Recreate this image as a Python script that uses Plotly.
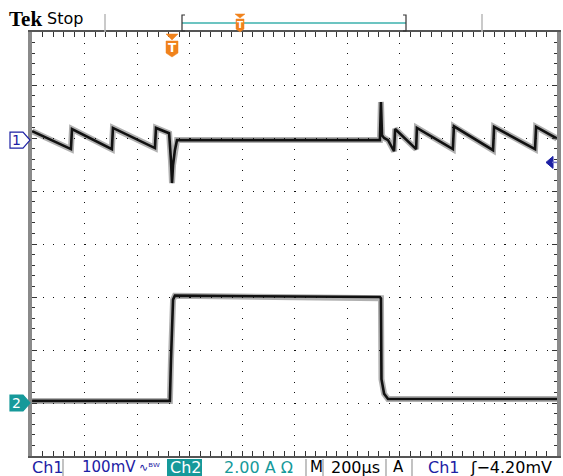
import plotly.graph_objects as go

# Channel 1 (100 mV/div) : time in microseconds, voltage in mV
ch1_time_us = [-533, -385, -381, -229, -225, -65, -61, -11, -4, 0, 4, 11, 19,
               792, 796, 800, 808, 823, 846, 850, 930, 933, 1070, 1074,
               1223, 1227, 1383, 1387, 1467]
ch1_mv = [17, -17, 21, -17, 23, -15, 23, 13, -38, -81, -47, -19, 0,
          0, 72, 9, 4, 0, -21, 21, -17, 23, -17, 26,
          -19, 25, -17, 25, 3]

# Channel 2 (2.00 A/div) : time in microseconds, current in A
ch2_time_us = [-533, -8, -4, 4, 11, 792, 796, 798, 808, 823, 1467]
ch2_amp = [0.08, 0.08, 1.6, 3.9, 4.05, 4.0, 3.95, 0.9, 0.35, 0.15, 0.15]

# scope settings
time_range_us = [-533.33, 1466.67]     # 200 us/div, 10 div
ch1_range_mv = [-596, 204]             # 100 mV/div, 8 div
ch2_range_a = [-2, 14]                 # 2 A/div, 8 div
trig_level_mv = -42

BLUE = "#1c20a4"
TEAL = "#16999a"
ORANGE = "#f0821c"
FONT = "DejaVu Sans"

W, H = 563, 476
L, R, T, B = 32, 6, 32, 20
PW, PH = W - L - R, H - T - B


def px(x):
    return (x - L) / PW


def py(y):
    return 1 - (y - T) / PH


fig = go.Figure()

for tx, ty, yax in [(ch1_time_us, ch1_mv, "y"), (ch2_time_us, ch2_amp, "y2")]:
    fig.add_trace(go.Scatter(x=tx, y=ty, yaxis=yax, mode="lines",
                             line=dict(color="rgba(30,30,30,0.35)", width=6),
                             hoverinfo="skip", showlegend=False))
    fig.add_trace(go.Scatter(x=tx, y=ty, yaxis=yax, mode="lines",
                             line=dict(color="#111111", width=2.6),
                             showlegend=False))

shapes = []
ann = []

# ground markers
for yref, fill, line, txt, tcol in [("y", "white", BLUE, "1", BLUE),
                                     ("y2", TEAL, TEAL, "2", "white")]:
    shapes.append(dict(type="path", xref="paper", yref=yref,
                       xsizemode="pixel", ysizemode="pixel",
                       xanchor=0, yanchor=0,
                       path="M-22,-8 L-9,-8 L-2,0 L-9,8 L-22,8 Z",
                       fillcolor=fill, line=dict(color=line, width=1.2)))
    ann.append(dict(x=px(16), y=0, xref="paper", yref=yref, text=txt,
                    showarrow=False, font=dict(family=FONT, size=14, color=tcol),
                    xanchor="center", yanchor="middle"))

# trigger level arrow (right)
shapes.append(dict(type="path", xref="paper", yref="y",
                   xsizemode="pixel", ysizemode="pixel", xanchor=1,
                   yanchor=trig_level_mv,
                   path="M-11,0 L-4,-6 L-4,6 Z", fillcolor=BLUE,
                   line=dict(color=BLUE, width=1)))
shapes.append(dict(type="path", xref="paper", yref="y",
                   xsizemode="pixel", ysizemode="pixel", xanchor=1,
                   yanchor=trig_level_mv,
                   path="M-5,0 L0,0", line=dict(color="#6d6fc8", width=1.5)))

# trigger position marker (T) below top border
shapes.append(dict(type="path", xref="x", yref="paper",
                   xsizemode="pixel", ysizemode="pixel", xanchor=0, yanchor=1,
                   path="M-6,-2 L6,-2 L0,-8 Z", fillcolor=ORANGE,
                   line=dict(color=ORANGE, width=0.5)))
shapes.append(dict(type="path", xref="x", yref="paper",
                   xsizemode="pixel", ysizemode="pixel", xanchor=0, yanchor=1,
                   path="M-6,-9 L6,-9 L6,-21 L0,-25 L-6,-21 Z", fillcolor=ORANGE,
                   line=dict(color=ORANGE, width=0.5)))
ann.append(dict(x=0, y=py(48), xref="x", yref="paper", text="<b>T</b>",
                showarrow=False, font=dict(family=FONT, size=12, color="white"),
                xanchor="center", yanchor="middle"))

# ---------- top bar ----------
ann.append(dict(x=px(7), y=py(19), xref="paper", yref="paper", text="<b>Tek</b>",
                showarrow=False, font=dict(family="Liberation Serif", size=21, color="black"),
                xanchor="left", yanchor="middle"))
ann.append(dict(x=px(45), y=py(19), xref="paper", yref="paper", text="Stop",
                showarrow=False, font=dict(family=FONT, size=16, color="black"),
                xanchor="left", yanchor="middle"))
for sx in [105, 482]:
    shapes.append(dict(type="line", xref="paper", yref="paper",
                       x0=px(sx), x1=px(sx), y0=py(14), y1=py(32),
                       line=dict(color="#b8b8b8", width=1.5)))
# record-view bracket
shapes.append(dict(type="line", xref="paper", yref="paper",
                   x0=px(182), x1=px(406), y0=py(23), y1=py(23),
                   line=dict(color="#6cc4c1", width=2)))
for bx, d in [(182, 3), (406, -3)]:
    shapes.append(dict(type="path", xref="paper", yref="paper",
                       path=f"M{px(bx + d)},{py(15)} L{px(bx)},{py(15)} L{px(bx)},{py(31)} L{px(bx + d)},{py(31)}",
                       line=dict(color="#333", width=1.2)))
shapes.append(dict(type="path", xref="paper", yref="paper",
                   path=f"M{px(235)},{py(14)} L{px(245)},{py(14)} L{px(240)},{py(18)} Z",
                   fillcolor=ORANGE, line=dict(color=ORANGE, width=0.5)))
shapes.append(dict(type="path", xref="paper", yref="paper",
                   path=f"M{px(236)},{py(19)} L{px(244)},{py(19)} L{px(244)},{py(29)} L{px(240)},{py(32)} L{px(236)},{py(29)} Z",
                   fillcolor=ORANGE, line=dict(color=ORANGE, width=0.5)))
ann.append(dict(x=px(240), y=py(25), xref="paper", yref="paper", text="<b>T</b>",
                showarrow=False, font=dict(family=FONT, size=9, color="white"),
                xanchor="center", yanchor="middle"))

# ---------- bottom status bar ----------
YB = py(467)
for sx in [63, 306, 323, 386, 412]:
    shapes.append(dict(type="line", xref="paper", yref="paper",
                       x0=px(sx), x1=px(sx), y0=py(459), y1=py(476),
                       line=dict(color="#9a9a9a", width=1.2)))
shapes.append(dict(type="rect", xref="paper", yref="paper",
                   x0=px(167), x1=px(202), y0=py(459), y1=py(476),
                   fillcolor=TEAL, line=dict(width=0)))

status = [
    (30, "Ch1", BLUE, 16),
    (80, "100mV", BLUE, 15),
    (137, "∿ᴮᵂ", BLUE, 11),
    (168, "Ch2", "white", 16),
    (222, "2.00 A Ω", TEAL, 16),
    (308, "M", "black", 15),
    (329, "200µs", "black", 16),
    (391, "A", "black", 15),
    (426, "Ch1", BLUE, 16),
    (468, "ʃ−4.20mV", "black", 16),
]
for sx, txt, col, sz in status:
    ann.append(dict(x=px(sx), y=YB, xref="paper", yref="paper", text=txt,
                    showarrow=False, font=dict(family=FONT, size=sz, color=col),
                    xanchor="left", yanchor="middle"))

fig.update_layout(
    width=W, height=H,
    margin=dict(l=L, r=R, t=T, b=B, pad=0, autoexpand=False),
    paper_bgcolor="white", plot_bgcolor="white",
    showlegend=False,
    shapes=shapes, annotations=ann,
    xaxis=dict(range=time_range_us, tick0=66.6667, dtick=200, automargin=False,
               showgrid=True, gridcolor="#111", gridwidth=1, griddash="1px,9.6px",
               zeroline=False, showticklabels=False,
               ticks="inside", ticklen=5, tickcolor="#333", tickwidth=1,
               minor=dict(dtick=40, tick0=66.6667, ticks="inside", ticklen=3,
                          tickcolor="#333", showgrid=False),
               showline=True, linecolor="#555", linewidth=2, mirror="allticks"),
    yaxis=dict(range=ch1_range_mv, tick0=4, dtick=100, automargin=False,
               showgrid=True, gridcolor="#111", gridwidth=1, griddash="1px,9.5px",
               zeroline=False, showticklabels=False,
               ticks="inside", ticklen=5, tickcolor="#333", tickwidth=1,
               minor=dict(dtick=20, tick0=4, ticks="inside", ticklen=3,
                          tickcolor="#333", showgrid=False),
               showline=True, linecolor="#8a8a8a", linewidth=4, mirror="allticks"),
    yaxis2=dict(range=ch2_range_a, overlaying="y", visible=False, automargin=False),
)

fig.write_html("out.html", config={"displayModeBar": False},
               post_script="document.body.style.margin='0';"
                           "document.body.style.overflow='hidden';")
